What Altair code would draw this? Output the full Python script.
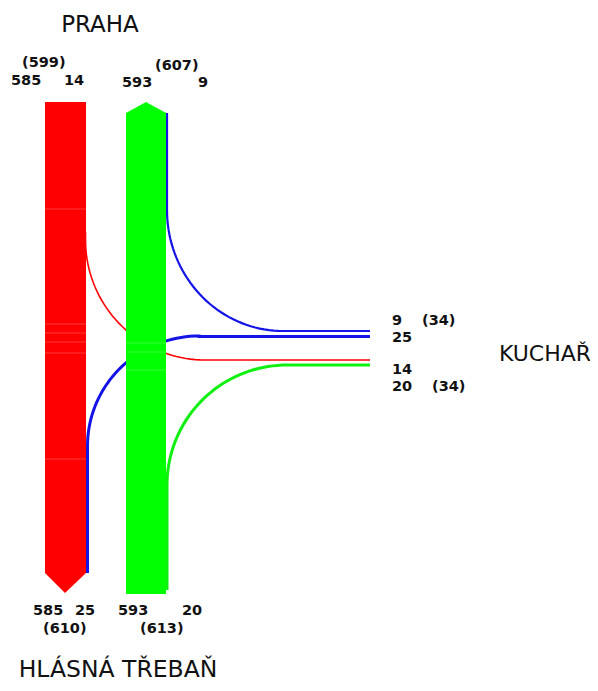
import altair as alt
import numpy as np
import pandas as pd

# ---------------- data ----------------
flow_names = ["Praha→Hlásná Třebaň", "Praha→Kuchař", "Hlásná Třebaň→Praha",
              "Kuchař→Praha", "Kuchař→Hlásná Třebaň", "Hlásná Třebaň→Kuchař"]
flow_values = [585, 14, 593, 9, 25, 20]
# totals as printed on the diagram (in brackets)
total_names = ["Praha out", "Praha in", "Kuchař out", "Kuchař in", "Hlásná Třebaň in", "Hlásná Třebaň out"]
total_values = [599, 607, 34, 34, 610, 613]
place_names = ["PRAHA", "KUCHAŘ", "HLÁSNÁ TŘEBAŇ"]

v = dict(zip(flow_names, flow_values))
tv = dict(zip(total_names, total_values))

# ---------------- layout (page pixel frame) ----------------
W, H = 582, 675
xs = alt.Scale(domain=[8, 8 + W], range=[0, W])
ys = alt.Scale(domain=[8, 8 + H], range=[0, H])

RED, GREEN, BLUE = "#FF0000", "#00FF00", "#1414E6"

# main bands (area, horizontal orientation)
red_band = pd.DataFrame({"y": [102, 573, 593], "x": [45, 45, 65], "x2": [86, 86, 65]})
green_band = pd.DataFrame({"y": [102, 113, 594], "x": [146, 126, 126], "x2": [146, 166, 166]})


def arc(cx, cy, rx, ry, t0, t1, n=40):
    t = np.linspace(t0, t1, n)
    return cx + rx * np.cos(t), cy + ry * np.sin(t)


def path(segments):
    xs_, ys_ = [], []
    for sx, sy in segments:
        xs_.extend(list(sx))
        ys_.extend(list(sy))
    return xs_, ys_


lines = []
END = 370
# Kuchař -> Praha (blue, 9)
ax, ay = arc(283, 210, 116, 121, np.pi / 2, np.pi)
px, py = path([([END, 283], [331, 331]), (ax, ay), ([167, 167], [210, 113])])
lines.append(("Kuchař→Praha", px, py))
# Kuchař -> Hlásná Třebaň (blue, 25)
ax, ay = arc(199, 446, 111.5, 110, -np.pi / 2, -np.pi)
px, py = path([([END, 199], [336.5, 336.5]), (ax, ay), ([87.5, 87.5], [446, 573])])
lines.append(("Kuchař→Hlásná Třebaň", px, py))
# Praha -> Kuchař (red, 14)
ax, ay = arc(205, 240, 119.5, 120, np.pi, np.pi / 2)
px, py = path([([85.5, 85.5], [232, 240]), (ax, ay), ([205, END], [360, 360])])
lines.append(("Praha→Kuchař", px, py))
# Hlásná Třebaň -> Kuchař (green, 20)
ax, ay = arc(287, 485, 120, 120, np.pi, 3 * np.pi / 2)
px, py = path([([167, 167], [590, 485]), (ax, ay), ([287, END], [365, 365])])
lines.append(("Hlásná Třebaň→Kuchař", px, py))

line_style = {"Kuchař→Praha": (BLUE, 2.2), "Kuchař→Hlásná Třebaň": (BLUE, 3.0),
              "Praha→Kuchař": (RED, 1.6), "Hlásná Třebaň→Kuchař": ("#10F010", 3.0)}

rows = []
for name, px, py in lines:
    for i, (a, b) in enumerate(zip(px, py)):
        rows.append({"flow": name, "i": i, "x": a, "y": b, "value": v[name]})
line_df = pd.DataFrame(rows)

layers = []
for name, (col, sw) in line_style.items():
    layers.append(
        alt.Chart(line_df[line_df.flow == name]).mark_line(color=col, strokeWidth=sw, strokeCap="butt").encode(
            x=alt.X("x:Q", scale=xs, axis=None),
            y=alt.Y("y:Q", scale=ys, axis=None),
            order="i:Q",
            tooltip=["flow:N", "value:Q"],
        )
    )

for df, col in [(red_band, RED), (green_band, GREEN)]:
    layers.append(
        alt.Chart(df).mark_area(color=col, orient="horizontal", opacity=1).encode(
            y=alt.Y("y:Q", scale=ys, axis=None),
            x=alt.X("x:Q", scale=xs, axis=None),
            x2="x2:Q",
        )
    )

# faint seams inside the bands (drawing artefacts of the original)
seam_df = pd.DataFrame({
    "y": [209, 324, 333, 342, 353, 459, 343, 352, 370],
    "x": [45, 45, 45, 45, 45, 45, 126, 126, 126],
    "x2": [86, 86, 86, 86, 86, 86, 166, 166, 166],
})
layers.append(
    alt.Chart(seam_df).mark_rule(color="white", opacity=0.22, strokeWidth=1).encode(
        y=alt.Y("y:Q", scale=ys, axis=None),
        x=alt.X("x:Q", scale=xs, axis=None),
        x2="x2:Q",
    )
)

# number labels (left aligned, alphabetic baseline)
num_text = [str(v["Praha→Hlásná Třebaň"]), str(v["Praha→Kuchař"]), f"({tv['Praha out']})",
            str(v["Hlásná Třebaň→Praha"]), str(v["Kuchař→Praha"]), f"({tv['Praha in']})",
            str(v["Kuchař→Praha"]), f"({tv['Kuchař out']})", str(v["Kuchař→Hlásná Třebaň"]),
            str(v["Praha→Kuchař"]), str(v["Hlásná Třebaň→Kuchař"]), f"({tv['Kuchař in']})",
            str(v["Praha→Hlásná Třebaň"]), str(v["Kuchař→Hlásná Třebaň"]), f"({tv['Hlásná Třebaň in']})",
            str(v["Hlásná Třebaň→Praha"]), str(v["Hlásná Třebaň→Kuchař"]), f"({tv['Hlásná Třebaň out']})"]
num_x = [11, 64, 22, 122, 198, 155,
         392, 422, 392, 392, 392, 432,
         33, 75, 43, 118, 182, 140]
num_y = [85, 85, 67, 87, 87, 70,
         325, 325, 342, 374, 391, 391,
         615, 615, 633, 615, 615, 633]
num_df = pd.DataFrame({"t": num_text, "x": num_x, "y": num_y})
layers.append(
    alt.Chart(num_df).mark_text(align="left", baseline="alphabetic", font="DejaVu Sans",
                                fontSize=14.5, fontWeight="bold", color="#111111").encode(
        x=alt.X("x:Q", scale=xs, axis=None),
        y=alt.Y("y:Q", scale=ys, axis=None),
        text="t:N",
    )
)

title_df = pd.DataFrame({"t": place_names, "x": [100, 545, 118], "y": [32, 361, 677],
                         "s": [23, 22, 23.5]})
layers.append(
    alt.Chart(title_df).mark_text(align="center", baseline="alphabetic", font="DejaVu Sans",
                                  color="#111111").encode(
        x=alt.X("x:Q", scale=xs, axis=None),
        y=alt.Y("y:Q", scale=ys, axis=None),
        text="t:N",
        size=alt.Size("s:Q", scale=None, legend=None),
    )
)

chart = alt.layer(*layers).properties(
    width=W, height=H, autosize=alt.AutoSizeParams(type="none"), padding=0
).configure_view(stroke=None)

chart.save("out.html", embed_options={"renderer": "svg", "actions": False})
